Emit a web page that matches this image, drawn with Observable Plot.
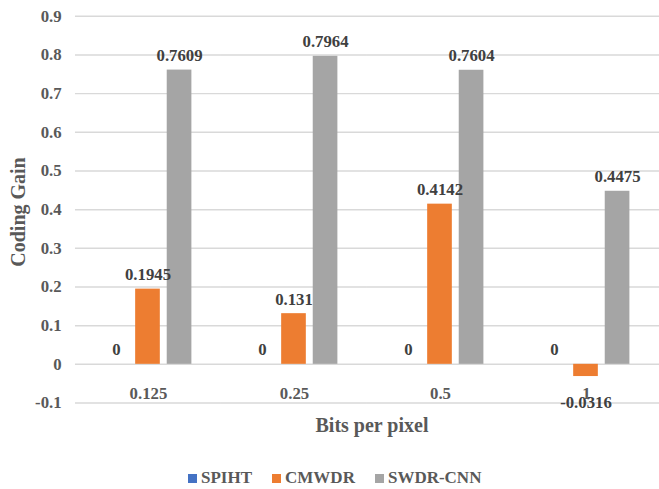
<!DOCTYPE html>
<html>
<head>
<meta charset="utf-8">
<script src="https://cdn.jsdelivr.net/npm/d3@7"></script>
<script src="https://cdn.jsdelivr.net/npm/@observablehq/plot@0.6"></script>
<style>
  html, body { margin: 0; padding: 0; overflow: hidden; background: #fff; }
  #wrap {
    position: relative; width: 659px; height: 489px; overflow: hidden;
    font-family: "Liberation Serif", "Times New Roman", serif; font-weight: bold; color: #595959;
  }
  #chart { position: absolute; left: 0; top: 0; }
  #xlabel { position: absolute; left: 0; width: 744px; top: 413px; text-align: center; font-size: 20px; line-height: 24px; }
  #ylabel {
    position: absolute; left: 18px; top: 212px; font-size: 20px; line-height: 24px; white-space: nowrap;
    transform: translate(-50%, -50%) rotate(-90deg);
  }
  #legend { position: absolute; left: 188px; top: 468px; display: flex; gap: 20px; font-size: 17px; line-height: 20px; }
  .item { display: flex; align-items: center; gap: 4px; }
  .sw { width: 9px; height: 9px; display: inline-block; }
</style>
</head>
<body>
<div id="wrap">
  <div id="chart"></div>
  <div id="ylabel">Coding Gain</div>
  <div id="xlabel">Bits per pixel</div>
  <div id="legend"></div>
</div>
<script>
// Bits per pixel categories
const bpp = ["0.125", "0.25", "0.5", "1"];
// Methods compared
const seriesNames = ["SPIHT", "CMWDR", "SWDR-CNN"];
const seriesColors = ["#4472C4", "#ED7D31", "#A5A5A5"];
// Coding gain per method at each rate
const spiht = [0, 0, 0, 0];
const cmwdr = [0.1945, 0.131, 0.4142, -0.0316];
const swdrCnn = [0.7609, 0.7964, 0.7604, 0.4475];
// Value axis ticks
const yTicks = [-0.1, 0, 0.1, 0.2, 0.3, 0.4, 0.5, 0.6, 0.7, 0.8, 0.9];

const seriesValues = [spiht, cmwdr, swdrCnn];
const rows = [];
bpp.forEach((b, i) => {
  seriesNames.forEach((s, j) => rows.push({bpp: b, series: s, value: seriesValues[j][i]}));
});

const font = '"Liberation Serif", "Times New Roman", serif';

const chart = Plot.plot({
  width: 668,
  height: 430,
  marginLeft: 76,
  marginRight: 0,
  marginTop: 16,
  marginBottom: 22,
  style: {fontFamily: font, fontWeight: "bold", fontSize: "17px", color: "#595959", background: "transparent"},
  fx: {domain: bpp, padding: 0, axis: null},
  x: {domain: seriesNames, paddingInner: 0.21, paddingOuter: 0.85, axis: null},
  y: {domain: [-0.1, 0.9], axis: null},
  color: {domain: seriesNames, range: seriesColors},
  marks: [
    Plot.gridY(yTicks, {stroke: "#d9d9d9", strokeOpacity: 1, strokeWidth: 1.5}),
    Plot.axisY(yTicks, {
      tickSize: 0, tickPadding: 14, tickFormat: d => String(d), label: null, fill: "#595959"
    }),
    Plot.barY(rows, {fx: "bpp", x: "series", y: "value", fill: "series"}),
    Plot.text(rows.filter(d => d.value >= 0), {
      fx: "bpp", x: "series", y: "value", text: d => String(d.value),
      lineAnchor: "bottom", dy: -9, fill: "#404040"
    }),
    Plot.text(rows.filter(d => d.value < 0), {
      fx: "bpp", x: "series", y: "value", text: d => String(d.value),
      lineAnchor: "top", dy: 20, fill: "#404040"
    }),
    Plot.text(bpp, {fx: d => d, text: d => d, frameAnchor: "bottom", lineAnchor: "middle", dy: -10, fill: "#595959"})
  ]
});
document.getElementById("chart").appendChild(chart);

// Legend row
const legend = document.getElementById("legend");
seriesNames.forEach((s, i) => {
  const item = document.createElement("span");
  item.className = "item";
  const sw = document.createElement("span");
  sw.className = "sw";
  sw.style.background = seriesColors[i];
  item.appendChild(sw);
  item.appendChild(document.createTextNode(s));
  legend.appendChild(item);
});
</script>
</body>
</html>
